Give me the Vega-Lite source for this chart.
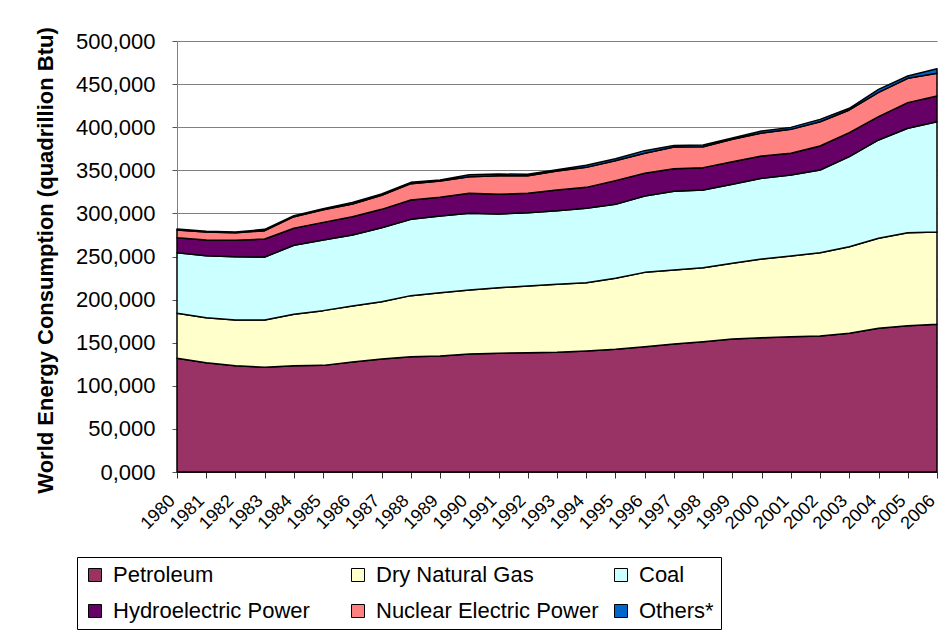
{
  "$schema": "https://vega.github.io/schema/vega-lite/v6.json",
  "width": 760,
  "height": 431,
  "autosize": {"type": "none"},
  "padding": {"left": 177, "top": 41, "right": 3, "bottom": 160},
  "background": "white",
  "config": {
    "view": {"stroke": null},
    "font": "Liberation Sans",
    "axis": {"labelFont": "Liberation Sans", "titleFont": "Liberation Sans", "labelColor": "black", "titleColor": "black"}
  },
  "data": {"values": [
    {"year":1980,"src":"Petroleum","val":131.9,"k":1},{"year":1980,"src":"Dry Natural Gas","val":52.2,"k":2},{"year":1980,"src":"Coal","val":70.3,"k":3},{"year":1980,"src":"Hydroelectric Power","val":17.4,"k":4},{"year":1980,"src":"Nuclear Electric Power","val":8.9,"k":5},{"year":1980,"src":"Others*","val":1.2,"k":6},
    {"year":1981,"src":"Petroleum","val":126.8,"k":1},{"year":1981,"src":"Dry Natural Gas","val":52.2,"k":2},{"year":1981,"src":"Coal","val":72.0,"k":3},{"year":1981,"src":"Hydroelectric Power","val":18.1,"k":4},{"year":1981,"src":"Nuclear Electric Power","val":9.3,"k":5},{"year":1981,"src":"Others*","val":0.8,"k":6},
    {"year":1982,"src":"Petroleum","val":123.4,"k":1},{"year":1982,"src":"Dry Natural Gas","val":52.9,"k":2},{"year":1982,"src":"Coal","val":73.5,"k":3},{"year":1982,"src":"Hydroelectric Power","val":19.0,"k":4},{"year":1982,"src":"Nuclear Electric Power","val":8.8,"k":5},{"year":1982,"src":"Others*","val":0.8,"k":6},
    {"year":1983,"src":"Petroleum","val":121.4,"k":1},{"year":1983,"src":"Dry Natural Gas","val":54.9,"k":2},{"year":1983,"src":"Coal","val":73.1,"k":3},{"year":1983,"src":"Hydroelectric Power","val":20.9,"k":4},{"year":1983,"src":"Nuclear Electric Power","val":9.7,"k":5},{"year":1983,"src":"Others*","val":1.5,"k":6},
    {"year":1984,"src":"Petroleum","val":123.4,"k":1},{"year":1984,"src":"Dry Natural Gas","val":59.5,"k":2},{"year":1984,"src":"Coal","val":80.1,"k":3},{"year":1984,"src":"Hydroelectric Power","val":19.7,"k":4},{"year":1984,"src":"Nuclear Electric Power","val":13.5,"k":5},{"year":1984,"src":"Others*","val":1.2,"k":6},
    {"year":1985,"src":"Petroleum","val":123.7,"k":1},{"year":1985,"src":"Dry Natural Gas","val":63.5,"k":2},{"year":1985,"src":"Coal","val":81.9,"k":3},{"year":1985,"src":"Hydroelectric Power","val":20.5,"k":4},{"year":1985,"src":"Nuclear Electric Power","val":14.7,"k":5},{"year":1985,"src":"Others*","val":1.2,"k":6},
    {"year":1986,"src":"Petroleum","val":127.6,"k":1},{"year":1986,"src":"Dry Natural Gas","val":65.0,"k":2},{"year":1986,"src":"Coal","val":82.3,"k":3},{"year":1986,"src":"Hydroelectric Power","val":21.3,"k":4},{"year":1986,"src":"Nuclear Electric Power","val":14.7,"k":5},{"year":1986,"src":"Others*","val":1.9,"k":6},
    {"year":1987,"src":"Petroleum","val":131.1,"k":1},{"year":1987,"src":"Dry Natural Gas","val":66.5,"k":2},{"year":1987,"src":"Coal","val":85.8,"k":3},{"year":1987,"src":"Hydroelectric Power","val":21.3,"k":4},{"year":1987,"src":"Nuclear Electric Power","val":16.3,"k":5},{"year":1987,"src":"Others*","val":1.5,"k":6},
    {"year":1988,"src":"Petroleum","val":133.8,"k":1},{"year":1988,"src":"Dry Natural Gas","val":70.8,"k":2},{"year":1988,"src":"Coal","val":88.5,"k":3},{"year":1988,"src":"Hydroelectric Power","val":22.4,"k":4},{"year":1988,"src":"Nuclear Electric Power","val":19.0,"k":5},{"year":1988,"src":"Others*","val":1.5,"k":6},
    {"year":1989,"src":"Petroleum","val":134.6,"k":1},{"year":1989,"src":"Dry Natural Gas","val":73.4,"k":2},{"year":1989,"src":"Coal","val":89.0,"k":3},{"year":1989,"src":"Hydroelectric Power","val":21.6,"k":4},{"year":1989,"src":"Nuclear Electric Power","val":19.0,"k":5},{"year":1989,"src":"Others*","val":1.1,"k":6},
    {"year":1990,"src":"Petroleum","val":136.9,"k":1},{"year":1990,"src":"Dry Natural Gas","val":74.2,"k":2},{"year":1990,"src":"Coal","val":89.0,"k":3},{"year":1990,"src":"Hydroelectric Power","val":23.2,"k":4},{"year":1990,"src":"Nuclear Electric Power","val":19.3,"k":5},{"year":1990,"src":"Others*","val":2.3,"k":6},
    {"year":1991,"src":"Petroleum","val":137.7,"k":1},{"year":1991,"src":"Dry Natural Gas","val":76.1,"k":2},{"year":1991,"src":"Coal","val":85.5,"k":3},{"year":1991,"src":"Hydroelectric Power","val":22.8,"k":4},{"year":1991,"src":"Nuclear Electric Power","val":21.7,"k":5},{"year":1991,"src":"Others*","val":1.9,"k":6},
    {"year":1992,"src":"Petroleum","val":138.4,"k":1},{"year":1992,"src":"Dry Natural Gas","val":77.4,"k":2},{"year":1992,"src":"Coal","val":85.0,"k":3},{"year":1992,"src":"Hydroelectric Power","val":22.5,"k":4},{"year":1992,"src":"Nuclear Electric Power","val":20.5,"k":5},{"year":1992,"src":"Others*","val":1.5,"k":6},
    {"year":1993,"src":"Petroleum","val":138.8,"k":1},{"year":1993,"src":"Dry Natural Gas","val":78.9,"k":2},{"year":1993,"src":"Coal","val":85.5,"k":3},{"year":1993,"src":"Hydroelectric Power","val":23.9,"k":4},{"year":1993,"src":"Nuclear Electric Power","val":22.1,"k":5},{"year":1993,"src":"Others*","val":1.5,"k":6},
    {"year":1994,"src":"Petroleum","val":140.4,"k":1},{"year":1994,"src":"Dry Natural Gas","val":79.2,"k":2},{"year":1994,"src":"Coal","val":86.3,"k":3},{"year":1994,"src":"Hydroelectric Power","val":24.3,"k":4},{"year":1994,"src":"Nuclear Electric Power","val":23.2,"k":5},{"year":1994,"src":"Others*","val":2.4,"k":6},
    {"year":1995,"src":"Petroleum","val":142.3,"k":1},{"year":1995,"src":"Dry Natural Gas","val":82.4,"k":2},{"year":1995,"src":"Coal","val":85.8,"k":3},{"year":1995,"src":"Hydroelectric Power","val":27.5,"k":4},{"year":1995,"src":"Nuclear Electric Power","val":23.2,"k":5},{"year":1995,"src":"Others*","val":2.3,"k":6},
    {"year":1996,"src":"Petroleum","val":145.4,"k":1},{"year":1996,"src":"Dry Natural Gas","val":86.2,"k":2},{"year":1996,"src":"Coal","val":88.6,"k":3},{"year":1996,"src":"Hydroelectric Power","val":26.3,"k":4},{"year":1996,"src":"Nuclear Electric Power","val":23.2,"k":5},{"year":1996,"src":"Others*","val":3.1,"k":6},
    {"year":1997,"src":"Petroleum","val":148.5,"k":1},{"year":1997,"src":"Dry Natural Gas","val":85.8,"k":2},{"year":1997,"src":"Coal","val":91.5,"k":3},{"year":1997,"src":"Hydroelectric Power","val":25.9,"k":4},{"year":1997,"src":"Nuclear Electric Power","val":25.2,"k":5},{"year":1997,"src":"Others*","val":1.9,"k":6},
    {"year":1998,"src":"Petroleum","val":151.2,"k":1},{"year":1998,"src":"Dry Natural Gas","val":85.8,"k":2},{"year":1998,"src":"Coal","val":90.1,"k":3},{"year":1998,"src":"Hydroelectric Power","val":26.0,"k":4},{"year":1998,"src":"Nuclear Electric Power","val":24.3,"k":5},{"year":1998,"src":"Others*","val":2.0,"k":6},
    {"year":1999,"src":"Petroleum","val":154.3,"k":1},{"year":1999,"src":"Dry Natural Gas","val":87.8,"k":2},{"year":1999,"src":"Coal","val":91.6,"k":3},{"year":1999,"src":"Hydroelectric Power","val":26.3,"k":4},{"year":1999,"src":"Nuclear Electric Power","val":25.9,"k":5},{"year":1999,"src":"Others*","val":1.6,"k":6},
    {"year":2000,"src":"Petroleum","val":155.8,"k":1},{"year":2000,"src":"Dry Natural Gas","val":91.3,"k":2},{"year":2000,"src":"Coal","val":93.6,"k":3},{"year":2000,"src":"Hydroelectric Power","val":25.9,"k":4},{"year":2000,"src":"Nuclear Electric Power","val":26.7,"k":5},{"year":2000,"src":"Others*","val":2.3,"k":6},
    {"year":2001,"src":"Petroleum","val":157.0,"k":1},{"year":2001,"src":"Dry Natural Gas","val":93.6,"k":2},{"year":2001,"src":"Coal","val":93.9,"k":3},{"year":2001,"src":"Hydroelectric Power","val":25.2,"k":4},{"year":2001,"src":"Nuclear Electric Power","val":27.8,"k":5},{"year":2001,"src":"Others*","val":2.3,"k":6},
    {"year":2002,"src":"Petroleum","val":157.8,"k":1},{"year":2002,"src":"Dry Natural Gas","val":96.6,"k":2},{"year":2002,"src":"Coal","val":95.9,"k":3},{"year":2002,"src":"Hydroelectric Power","val":27.9,"k":4},{"year":2002,"src":"Nuclear Electric Power","val":28.2,"k":5},{"year":2002,"src":"Others*","val":2.7,"k":6},
    {"year":2003,"src":"Petroleum","val":160.9,"k":1},{"year":2003,"src":"Dry Natural Gas","val":100.5,"k":2},{"year":2003,"src":"Coal","val":104.4,"k":3},{"year":2003,"src":"Hydroelectric Power","val":27.9,"k":4},{"year":2003,"src":"Nuclear Electric Power","val":26.3,"k":5},{"year":2003,"src":"Others*","val":1.9,"k":6},
    {"year":2004,"src":"Petroleum","val":166.7,"k":1},{"year":2004,"src":"Dry Natural Gas","val":104.4,"k":2},{"year":2004,"src":"Coal","val":114.1,"k":3},{"year":2004,"src":"Hydroelectric Power","val":27.0,"k":4},{"year":2004,"src":"Nuclear Electric Power","val":28.2,"k":5},{"year":2004,"src":"Others*","val":3.5,"k":6},
    {"year":2005,"src":"Petroleum","val":169.8,"k":1},{"year":2005,"src":"Dry Natural Gas","val":107.8,"k":2},{"year":2005,"src":"Coal","val":121.1,"k":3},{"year":2005,"src":"Hydroelectric Power","val":29.8,"k":4},{"year":2005,"src":"Nuclear Electric Power","val":28.2,"k":5},{"year":2005,"src":"Others*","val":2.7,"k":6},
    {"year":2006,"src":"Petroleum","val":171.3,"k":1},{"year":2006,"src":"Dry Natural Gas","val":107.1,"k":2},{"year":2006,"src":"Coal","val":128.0,"k":3},{"year":2006,"src":"Hydroelectric Power","val":29.8,"k":4},{"year":2006,"src":"Nuclear Electric Power","val":26.3,"k":5},{"year":2006,"src":"Others*","val":5.4,"k":6}
  ]},
  "mark": {"type": "area", "stroke": "black", "strokeWidth": 1.5, "strokeJoin": "round"},
  "encoding": {
    "x": {
      "field": "year", "type": "quantitative",
      "scale": {"domain": [1980, 2006], "nice": false, "zero": false},
      "axis": {
        "title": null,
        "values": [1980,1981,1982,1983,1984,1985,1986,1987,1988,1989,1990,1991,1992,1993,1994,1995,1996,1997,1998,1999,2000,2001,2002,2003,2004,2005,2006],
        "format": "d", "grid": false, "labelAngle": -45, "labelAlign": "right", "labelBaseline": "middle",
        "labelFontSize": 18, "labelPadding": 20, "labelOffset": -5, "labelFlush": false, "labelOverlap": false,
        "tickSize": 6, "tickColor": "#333333", "domainColor": "#333333", "domainWidth": 1
      }
    },
    "y": {
      "field": "val", "type": "quantitative", "stack": "zero",
      "scale": {"domain": [0, 500], "nice": false},
      "axis": {
        "title": "World Energy Consumption (quadrillion Btu)",
        "titleFontSize": 22, "titleFontWeight": "bold", "titleX": -120, "titleY": 219, "titleBaseline": "bottom",
        "values": [0,50,100,150,200,250,300,350,400,450,500],
        "labelExpr": "replace(format(datum.value, '.3f'), '.', ',')",
        "labelFontSize": 22, "labelPadding": 17,
        "tickSize": 5, "tickColor": "#555555", "domainColor": "#808080",
        "grid": true, "gridColor": "#808080", "gridWidth": 1
      }
    },
    "color": {
      "field": "src", "type": "nominal",
      "scale": {
        "domain": ["Petroleum", "Hydroelectric Power", "Dry Natural Gas", "Nuclear Electric Power", "Coal", "Others*"],
        "range": ["#993366", "#660066", "#FFFFCC", "#FF8080", "#CCFFFF", "#0066CC"]
      },
      "legend": {
        "title": null, "orient": "none", "legendX": -100, "legendY": 516, "columns": 3,
        "strokeColor": "black", "fillColor": "white", "padding": 7,
        "symbolType": "square", "symbolSize": 169, "symbolStrokeColor": "black", "symbolStrokeWidth": 1,
        "labelFontSize": 22, "labelFont": "Liberation Sans", "labelColor": "black", "labelOffset": 7, "labelLimit": 400,
        "columnPadding": 11, "rowPadding": 14, "gridAlign": "all"
      }
    },
    "order": {"field": "k", "type": "quantitative"}
  }
}
